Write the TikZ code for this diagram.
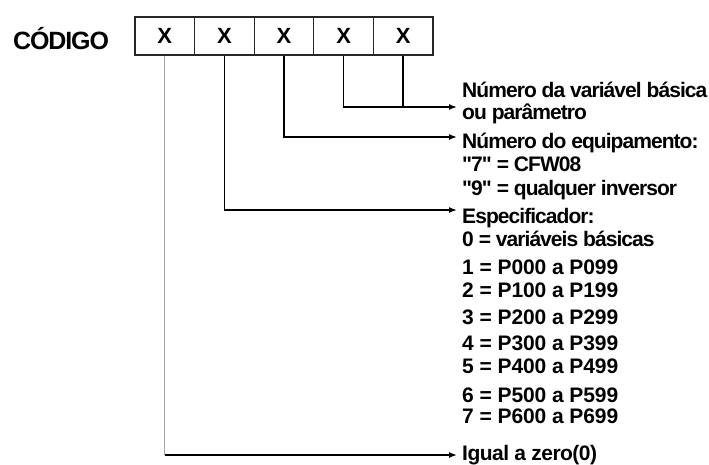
\documentclass[tikz,border=0pt]{standalone}
\usepackage{fontspec}
\setmainfont{Liberation Sans}
\newfontfamily\lblfont{Liberation Sans}[LetterSpace=-4.5,Ligatures=NoCommon]
\newfontfamily\numfont{Liberation Sans}[LetterSpace=-0.5,Ligatures=NoCommon]
\newfontfamily\midfont{Liberation Sans}[LetterSpace=-2.5,Ligatures=NoCommon]
\usetikzlibrary{arrows.meta}
\begin{document}
\begin{tikzpicture}[x=1pt,y=-1pt,
  cell/.style={draw=black!85,line width=1.1pt,minimum width=59.6pt,minimum height=38pt,inner sep=0pt,
    font=\fontsize{22}{22}\selectfont\bfseries},
  lbl/.style={anchor=base west,inner sep=0pt,font=\lblfont\fontsize{21}{21}\selectfont\bfseries},
  numlbl/.style={anchor=base west,inner sep=0pt,font=\numfont\fontsize{21}{21}\selectfont\bfseries},
  midlbl/.style={anchor=base west,inner sep=0pt,font=\midfont\fontsize{21}{21}\selectfont\bfseries},
  conn/.style={line width=1.5pt,-{Latex[length=8pt,width=6pt]}},
]
\useasboundingbox (0,0) rectangle (709,464);
\fill[white] (0,0) rectangle (709,464);

\node[anchor=base west,inner sep=0pt,font=\lblfont\fontsize{25}{25}\selectfont\bfseries] (title) at (13,49) {CÓDIGO};

\node[cell] (c1) at (164.8,36) {X};
\node[cell] (c2) at (224.4,36) {X};
\node[cell] (c3) at (284.0,36) {X};
\node[cell] (c4) at (343.6,36) {X};
\node[cell] (c5) at (403.2,36) {X};

% arrow end points
\coordinate (e1) at (457,107);
\coordinate (e2) at (457,137);
\coordinate (e3) at (457,210);
\coordinate (e4) at (457,455);

% labels
\node[lbl] (t1)  at (462,97)  {Número da variável básica};
\node[lbl] (t2)  at (462,119) {ou parâmetro};
\node[lbl] (t3)  at (462,148) {Número do equipamento:};
\node[lbl] (t4)  at (462,171) {\symbol{34}7\symbol{34} = CFW08};
\node[lbl] (t5)  at (462,195) {\symbol{34}9\symbol{34} = qualquer inversor};
\node[lbl] (t6)  at (462,223) {Especificador:};
\node[lbl] (t7)  at (462,246) {0 = variáveis básicas};
\node[numlbl] (t8)  at (462,274) {1 = P000 a P099};
\node[numlbl] (t9)  at (462,297) {2 = P100 a P199};
\node[numlbl] (t10) at (462,324) {3 = P200 a P299};
\node[numlbl] (t11) at (462,350) {4 = P300 a P399};
\node[numlbl] (t12) at (462,373) {5 = P400 a P499};
\node[numlbl] (t13) at (462,402) {6 = P500 a P599};
\node[numlbl] (t14) at (462,423) {7 = P600 a P699};
\node[midlbl] (t15) at (462,460) {Igual a zero(0)};

% connectors
\draw[conn] (c4.south) |- (e1);
\draw[line width=1.5pt] (c5.south) -- (c5.south |- e1);
\draw[conn] (c3.south) |- (e2);
\draw[conn] (c2.south) |- (e3);
\draw[draw=black!35,line width=0.9pt] (c1.south) -- (c1.south |- e4);
\draw[conn] (c1.south |- e4) -- (e4);
\end{tikzpicture}
\end{document}
